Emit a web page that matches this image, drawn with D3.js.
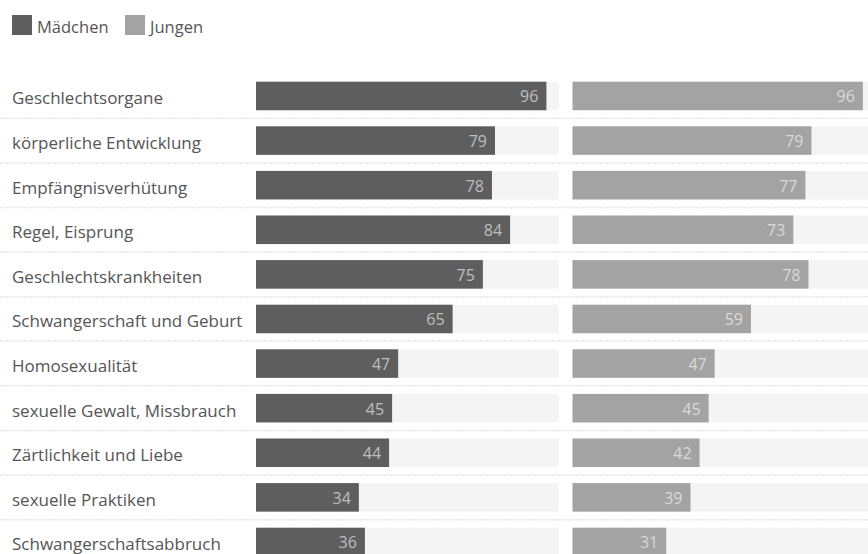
<!DOCTYPE html>
<html><head><meta charset="utf-8">
<script src="https://cdn.jsdelivr.net/npm/d3@7"></script>
<style>
html,body{margin:0;padding:0;background:#fff;}
svg{display:block;font-family:"Open Sans","Noto Sans",sans-serif;}
</style></head>
<body>
<script>
const categories = ["Geschlechtsorgane","körperliche Entwicklung","Empfängnisverhütung","Regel, Eisprung","Geschlechtskrankheiten","Schwangerschaft und Geburt","Homosexualität","sexuelle Gewalt, Missbrauch","Zärtlichkeit und Liebe","sexuelle Praktiken","Schwangerschaftsabbruch"];
const maedchen = [96,79,78,84,75,65,47,45,44,34,36];
const jungen = [96,79,77,73,78,59,47,45,42,39,31];
const seriesNames = ["Mädchen","Jungen"];
const seriesColors = ["#5e5e5e","#a3a3a3"];

const W = 868, H = 554;
const svg = d3.select("body").append("svg").attr("width", W).attr("height", H);

const step = 44.6, pi = 0.36;
const top0 = 81.7 - step * pi / 2;
const y = d3.scaleBand().domain(categories).range([top0, top0 + categories.length * step]).paddingInner(pi).paddingOuter(pi / 2);
const x = d3.scaleLinear().domain([0, 100]).range([0, 302.5]);
const panels = [{x0: 256, vals: maedchen, color: seriesColors[0]}, {x0: 572.5, vals: jungen, color: seriesColors[1]}];

// legend
const leg = svg.append("g");
[{x: 12, t: seriesNames[0], c: seriesColors[0]}, {x: 125, t: seriesNames[1], c: seriesColors[1]}].forEach(l => {
  leg.append("rect").attr("x", l.x).attr("y", 15).attr("width", 20).attr("height", 20).attr("fill", l.c);
  leg.append("text").attr("x", l.x + 25).attr("y", 33).attr("font-size", 16.5).attr("fill", "#555").text(l.t);
});

// separators
categories.slice(1).forEach(c => {
  const yy = y(c) - y.step() * pi / 2;
  svg.append("line").attr("x1", 0).attr("x2", W).attr("y1", yy).attr("y2", yy)
    .attr("stroke", "#e6e6e6").attr("stroke-width", 1.5).attr("stroke-dasharray", "2,1");
});

// labels
svg.append("g").selectAll("text").data(categories).join("text")
  .attr("x", 12).attr("y", d => y(d) + y.bandwidth() / 2 + 8.5)
  .attr("font-size", 17).attr("fill", "#555").text(d => d);

panels.forEach(p => {
  const g = svg.append("g").attr("transform", `translate(${p.x0},0)`);
  g.selectAll("rect.track").data(categories).join("rect").attr("class", "track")
    .attr("x", 0).attr("y", d => y(d)).attr("width", x(100)).attr("height", y.bandwidth()).attr("fill", "#f4f4f4");
  g.selectAll("rect.bar").data(p.vals).join("rect").attr("class", "bar")
    .attr("x", 0).attr("y", (d, i) => y(categories[i])).attr("width", d => x(d)).attr("height", y.bandwidth()).attr("fill", p.color);
  g.selectAll("text.val").data(p.vals).join("text").attr("class", "val")
    .attr("x", d => x(d) - 8).attr("y", (d, i) => y(categories[i]) + y.bandwidth() / 2 + 6.5)
    .attr("text-anchor", "end").attr("font-size", 16).attr("fill", "#fff").attr("fill-opacity", 0.6).text(d => d);
});
</script>
</body></html>
